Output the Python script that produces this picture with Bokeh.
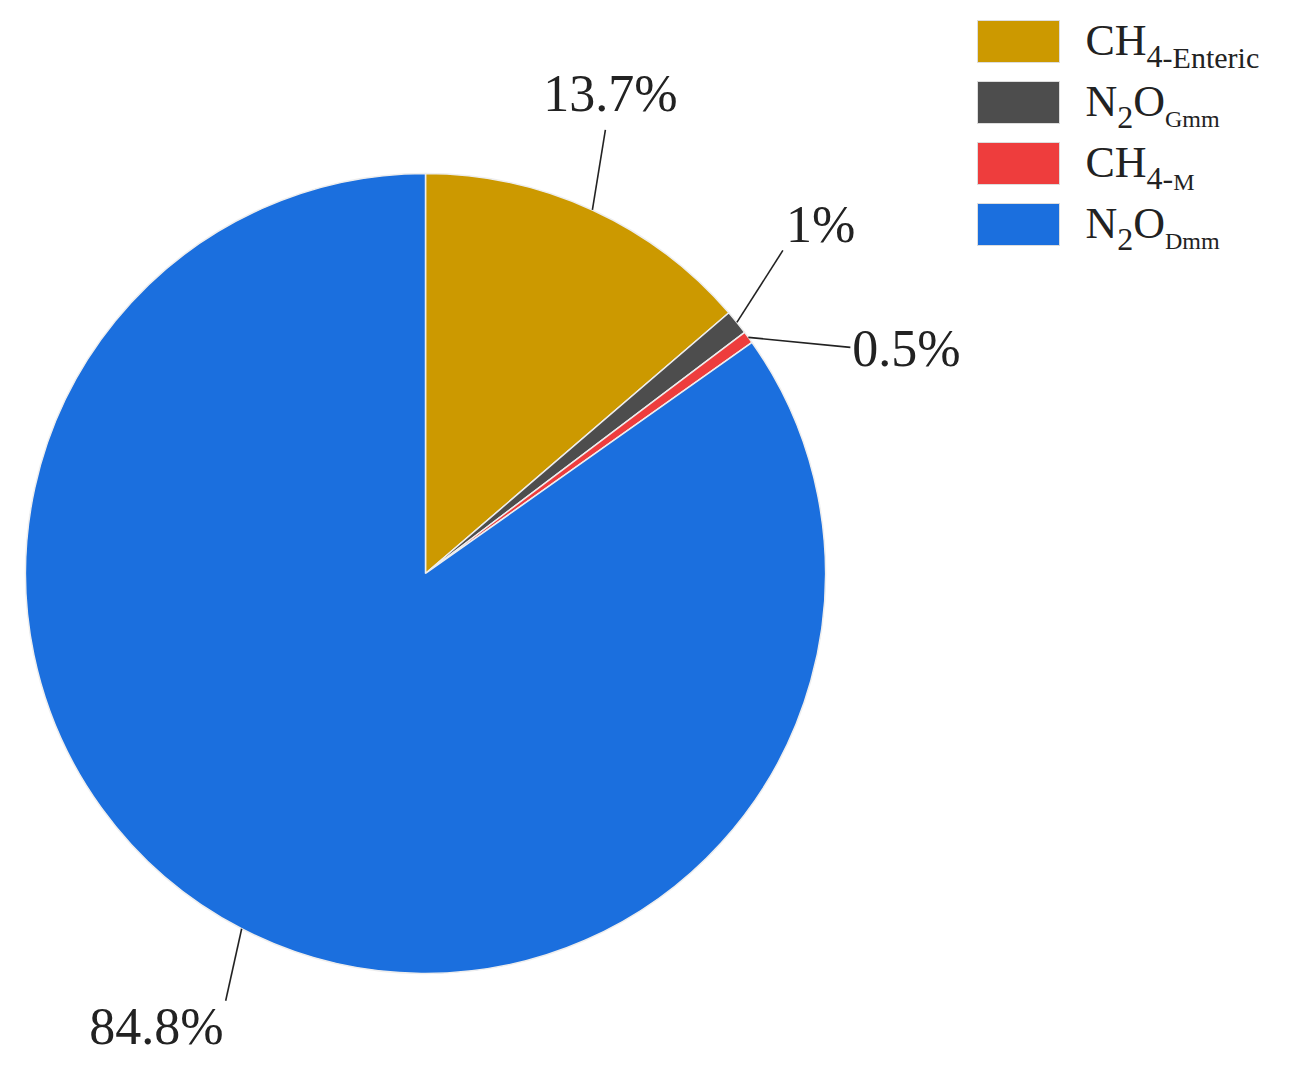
import math
from bokeh.plotting import figure
from bokeh.models import Range1d, Label
from bokeh.embed import file_html
from bokeh.resources import INLINE

# ---- data ----
series_names = ["CH4-Enteric", "N2O-Gmm", "CH4-M", "N2O-Dmm"]
values = [13.7, 1.0, 0.5, 84.8]
value_labels = ["13.7%", "1%", "0.5%", "84.8%"]
colors = ["#CC9900", "#4D4D4D", "#EE3D3D", "#1B6FDE"]

# legend text pieces: (text, role)
legend_pieces = [
    [("CH", "main"), ("4", "sub"), ("-Enteric", "sub2")],
    [("N", "main"), ("2", "sub"), ("O", "main"), ("Gmm", "sub3")],
    [("CH", "main"), ("4", "sub"), ("-", "sub"), ("M", "sub4")],
    [("N", "main"), ("2", "sub"), ("O", "main"), ("Dmm", "sub3")],
]

# ---- layout / style ----
W, H = 1286, 1070
def X(xi): return xi
def Y(yi): return H - yi
BASE_FIX = 0.37  # em shift so that the glyph baseline sits where intended

cx, cy, R = X(425), Y(573), 400
FONT = "Liberation Serif"
leader_off = [(13, -80), (46, -72), (102, 10), (-16, 72)]
text_off = [(5, -17), (3, -7), (2, 20), (-2, 45)]
text_align = ["center", "left", "left", "right"]
LABEL_FS = 52

p = figure(width=W, height=H, x_range=Range1d(0, W), y_range=Range1d(0, H),
           output_backend="svg", toolbar_location=None, min_border=0,
           x_axis_location=None, y_axis_location=None)
p.grid.visible = False
p.outline_line_color = None
p.background_fill_color = "white"

total = sum(values)
cum = 0.0
for i, v in enumerate(values):
    f = v / total
    a0 = math.pi / 2 - 2 * math.pi * cum
    a1 = math.pi / 2 - 2 * math.pi * (cum + f)
    mid = math.pi / 2 - 2 * math.pi * (cum + f / 2)
    cum += f
    p.wedge(x=cx, y=cy, radius=R, start_angle=a0, end_angle=a1, direction="clock",
            fill_color=colors[i], line_color="#eeeeee", line_width=1.5)
    ex = cx + R * math.cos(mid)
    ey = cy + R * math.sin(mid)
    lx = ex + leader_off[i][0]
    ly = ey - leader_off[i][1]
    p.line([ex, lx], [ey, ly], line_color="#222222", line_width=1.6)
    p.add_layout(Label(x=lx + text_off[i][0],
                       y=ly - text_off[i][1] + BASE_FIX * LABEL_FS,
                       text=value_labels[i],
                       text_font=FONT, text_font_size=f"{LABEL_FS}px", text_color="#222222",
                       text_align=text_align[i], text_baseline="alphabetic"))

# ---- legend ----
sizes = {"main": 44, "sub": 32, "sub2": 30, "sub3": 24, "sub4": 24}
drop = {"main": 0, "sub": 12, "sub2": 12, "sub3": 10, "sub4": 12}
widths = {"C": .667, "H": .722, "N": .722, "O": .722, "2": .5, "4": .5, "-": .333,
          "E": .611, "n": .5, "t": .278, "e": .444, "r": .333, "i": .278, "c": .444,
          "G": .722, "m": .778, "M": .889, "D": .722}
row_gap = 61
for i, pieces in enumerate(legend_pieces):
    top = Y(20 + row_gap * i)
    p.quad(left=X(977), right=X(1059), top=top, bottom=top - 42,
           fill_color=colors[i], line_color="#dddddd", line_width=1)
    xpos = X(1085)
    base = Y(56 + row_gap * i)
    for txt, role in pieces:
        fs = sizes[role]
        p.add_layout(Label(x=xpos, y=base - drop[role] + BASE_FIX * fs, text=txt, text_font=FONT,
                           text_font_size=f"{fs}px", text_color="#222222",
                           text_align="left", text_baseline="alphabetic"))
        xpos += sum(widths.get(ch, 0.5) for ch in txt) * fs

open("out.html", "w").write(file_html(p, INLINE))
